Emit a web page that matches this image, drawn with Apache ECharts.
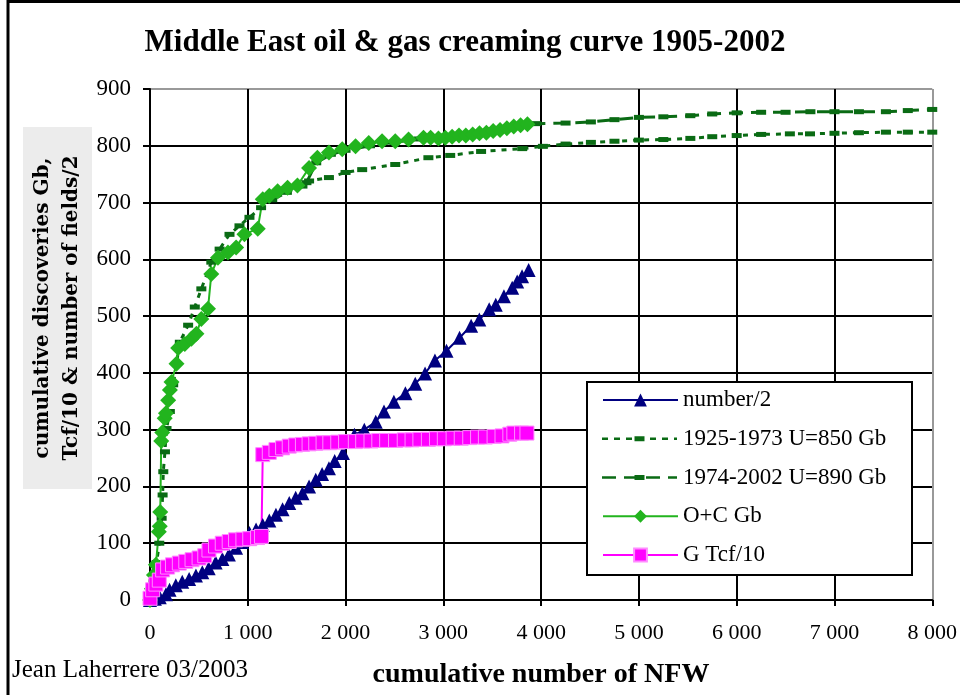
<!DOCTYPE html>
<html><head><meta charset="utf-8">
<script src="https://cdn.jsdelivr.net/npm/echarts@6/dist/echarts.min.js"></script>
<style>html,body{margin:0;padding:0;background:#fff}#c{width:960px;height:695px}</style>
</head><body><div id="c"></div>
<script>
// ---- data (x = cumulative number of NFW, y = value) ----
const xTicks = [0,1000,2000,3000,4000,5000,6000,7000,8000];
const yTicks = [0,100,200,300,400,500,600,700,800,900];

const number2 = [[0,0],[50,2],[100,5],[163,10],[200,18],[264,26],[330,32],[400,37],[470,43],[535,49],[600,56],[671,66],[740,72],[807,80],[880,92],[942,102],[1017,118],[1085,124],[1153,132],[1220,140],[1288,150],[1356,160],[1424,171],[1490,180],[1559,188],[1627,200],[1695,212],[1760,222],[1830,232],[1889,245],[1973,259],[2091,291],[2192,300],[2309,314],[2393,332],[2494,349],[2612,364],[2713,381],[2813,399],[2914,422],[3032,439],[3166,462],[3284,483],[3368,494],[3469,512],[3536,520],[3620,535],[3704,550],[3755,561],[3805,570],[3872,581]];

const model1925 = [[0,0],[34,32],[68,66],[95,100],[119,144],[129,185],[136,226],[153,261],[169,302],[203,332],[237,379],[305,454],[390,484],[458,516],[525,548],[627,595],[712,618],[813,644],[915,659],[1017,674],[1136,691],[1250,705],[1400,718],[1559,729],[1627,738],[1830,744],[2000,753],[2170,758],[2508,767],[2847,779],[3070,783],[3386,790],[3807,795],[4018,799],[4250,803],[4509,806],[4750,808],[5000,810],[5250,811],[5526,813],[5750,816],[6000,818],[6250,820],[6544,821],[6750,821],[7000,822],[7250,823],[7526,824],[7750,824],[8000,824]];

const model1974 = [[1600,735],[1700,770],[1850,785],[2000,792],[2250,800],[2500,806],[2750,812],[3000,817],[3250,822],[3500,828],[3750,834],[3947,839],[4250,840],[4509,842],[4750,846],[5000,850],[5250,851],[5526,853],[5750,856],[6000,858],[6250,859],[6500,859],[6754,860],[7000,860],[7250,860],[7526,860],[7750,862],[8000,864]];

const oilCond = [[0,0],[20,20],[40,44],[60,62],[90,120],[100,130],[105,155],[115,280],[125,295],[150,320],[163,329],[186,352],[203,370],[220,384],[271,416],[288,444],[356,451],[424,460],[475,469],[525,495],[593,513],[627,574],[695,603],[797,612],[881,621],[966,644],[1102,654],[1153,706],[1220,712],[1305,720],[1407,726],[1508,730],[1627,761],[1712,779],[1830,788],[1966,794],[2102,799],[2237,805],[2373,808],[2508,808],[2644,811],[2797,814],[2870,814],[2950,813],[3020,814],[3090,816],[3160,818],[3230,818],[3300,820],[3370,822],[3440,823],[3510,826],[3580,828],[3650,831],[3720,834],[3790,836],[3860,838]];

const gasTcf = [[0,3],[27,18],[60,28],[95,35],[129,53],[180,58],[230,62],[300,65],[366,68],[430,71],[502,74],[560,78],[603,88],[670,95],[739,100],[810,103],[875,106],[950,107],[1020,108],[1100,110],[1140,112],[1153,256],[1220,260],[1288,265],[1356,268],[1424,271],[1490,273],[1559,274],[1627,275],[1695,276],[1770,277],[1839,277],[1920,278],[2000,279],[2100,279],[2175,280],[2260,280],[2340,281],[2420,281],[2511,281],[2600,282],[2680,282],[2760,283],[2847,283],[2930,284],[3010,284],[3100,285],[3183,285],[3270,286],[3350,287],[3430,287],[3519,288],[3600,289],[3680,292],[3721,294],[3800,294],[3855,294]];

const seriesNames = ['number/2','1925-1973 U=850 Gb','1974-2002 U=890 Gb','O+C Gb','G Tcf/10'];

const serif = "'Liberation Serif','Times New Roman',serif";
const chart = echarts.init(document.getElementById('c'), null, {renderer:'canvas'});
const darkGreen = '#0a6b14';
const gridColorsX = xTicks.map((v,i)=> i===xTicks.length-1 ? '#999' : '#000');
const gridColorsY = yTicks.map((v,i)=> i===yTicks.length-1 ? '#999' : '#000');

// legend layout
const legTop = 388, legRow = 38.75, legLeft = 602, legIconW = 75;
function legendDashIcon(row, dash) {
  const y = legTop + 12 + row * legRow;
  return [
    {type:'line', z:11, shape:{x1:legLeft, y1:y, x2:legLeft+legIconW, y2:y},
      style:{stroke:darkGreen, lineWidth:2.5, lineDash:dash}},
    {type:'rect', z:12, shape:{x:legLeft+legIconW/2-5, y:y-2.5, width:10, height:5},
      style:{fill:darkGreen}}
  ];
}

chart.setOption({
  animation:false,
  backgroundColor:'#fff',
  grid:{left:150, right:24, top:89, bottom:95, containLabel:false},
  xAxis:{type:'value', min:xTicks[0], max:xTicks[xTicks.length-1], interval:1000,
    axisLine:{show:true, onZero:false, lineStyle:{color:'#000', width:2}},
    axisTick:{show:true, length:6, lineStyle:{color:'#000', width:2}},
    axisLabel:{color:'#000', fontFamily:serif, fontSize:22, margin:22,
      formatter:v=> v===0 ? '0' : (v/1000)+' 000'},
    splitLine:{show:true, lineStyle:{color:gridColorsX, width:2}}},
  yAxis:{type:'value', min:yTicks[0], max:yTicks[yTicks.length-1], interval:100,
    axisLine:{show:true, onZero:false, lineStyle:{color:'#000', width:2}},
    axisTick:{show:true, length:7, lineStyle:{color:'#000', width:2}},
    axisLabel:{color:'#000', fontFamily:serif, fontSize:23, margin:19},
    splitLine:{show:true, lineStyle:{color:gridColorsY, width:2}}},
  legend:{orient:'vertical', left:legLeft, top:legTop, z:10, padding:0,
    itemWidth:legIconW, itemHeight:16, itemGap:14.75,
    textStyle:{fontFamily:serif, fontSize:23, color:'#000', lineHeight:24},
    data:[
      {name:seriesNames[0]},
      {name:seriesNames[1], icon:'none'},
      {name:seriesNames[2], icon:'none'},
      {name:seriesNames[3]},
      {name:seriesNames[4]}
    ]},
  graphic:[
    {type:'rect', z:-1, shape:{x:8, y:1.5, width:1000, height:800}, style:{fill:null, stroke:'#000', lineWidth:3}},
    {type:'rect', z:3, shape:{x:587, y:382, width:325, height:193}, style:{fill:'#fff', stroke:'#000', lineWidth:2}},
    ...legendDashIcon(1, [6,6]),
    ...legendDashIcon(2, [14,8]),
    {type:'text', x:465, y:43, style:{text:'Middle East oil & gas creaming curve 1905-2002', fontFamily:serif, fontSize:31, fontWeight:'bold', fill:'#000', textAlign:'center', textVerticalAlign:'middle'}},
    {type:'rect', shape:{x:23, y:127, width:69, height:362}, style:{fill:'#ececec'}},
    {type:'text', x:57, y:308, rotation:Math.PI/2, style:{text:'cumulative discoveries Gb,\nTcf/10 & number of fields/2', fontFamily:"'DejaVu Serif'", fontSize:20, fontWeight:'bold', lineHeight:29, fill:'#000', textAlign:'center', textVerticalAlign:'middle'}},
    {type:'text', x:12, y:670, style:{text:'Jean Laherrere 03/2003', fontFamily:serif, fontSize:25, fill:'#000', textAlign:'left', textVerticalAlign:'middle'}},
    {type:'text', x:541, y:675, style:{text:'cumulative number of NFW', fontFamily:serif, fontSize:28, fontWeight:'bold', fill:'#000', textAlign:'center', textVerticalAlign:'middle'}}
  ],
  series:[
    {name:seriesNames[0], type:'line', data:number2, symbol:'triangle', symbolSize:14,
      itemStyle:{color:'#000080'}, lineStyle:{color:'#000080', width:2}},
    {name:seriesNames[1], type:'line', data:model1925, symbol:'rect', symbolSize:[10,5],
      itemStyle:{color:darkGreen}, lineStyle:{color:darkGreen, width:3, type:[5,6]}},
    {name:seriesNames[2], type:'line', data:model1974, symbol:'rect', symbolSize:[10,5],
      itemStyle:{color:darkGreen}, lineStyle:{color:darkGreen, width:3, type:[14,8]}},
    {name:seriesNames[3], type:'line', data:oilCond, symbol:'diamond', symbolSize:16,
      itemStyle:{color:'#22b41e'}, lineStyle:{color:'#22b41e', width:2}},
    {name:seriesNames[4], type:'line', data:gasTcf, symbol:'rect', symbolSize:14,
      itemStyle:{color:'#ff00ff', borderColor:'#ff8cff', borderWidth:1}, lineStyle:{color:'#ff00ff', width:2}}
  ]
});
</script></body></html>
